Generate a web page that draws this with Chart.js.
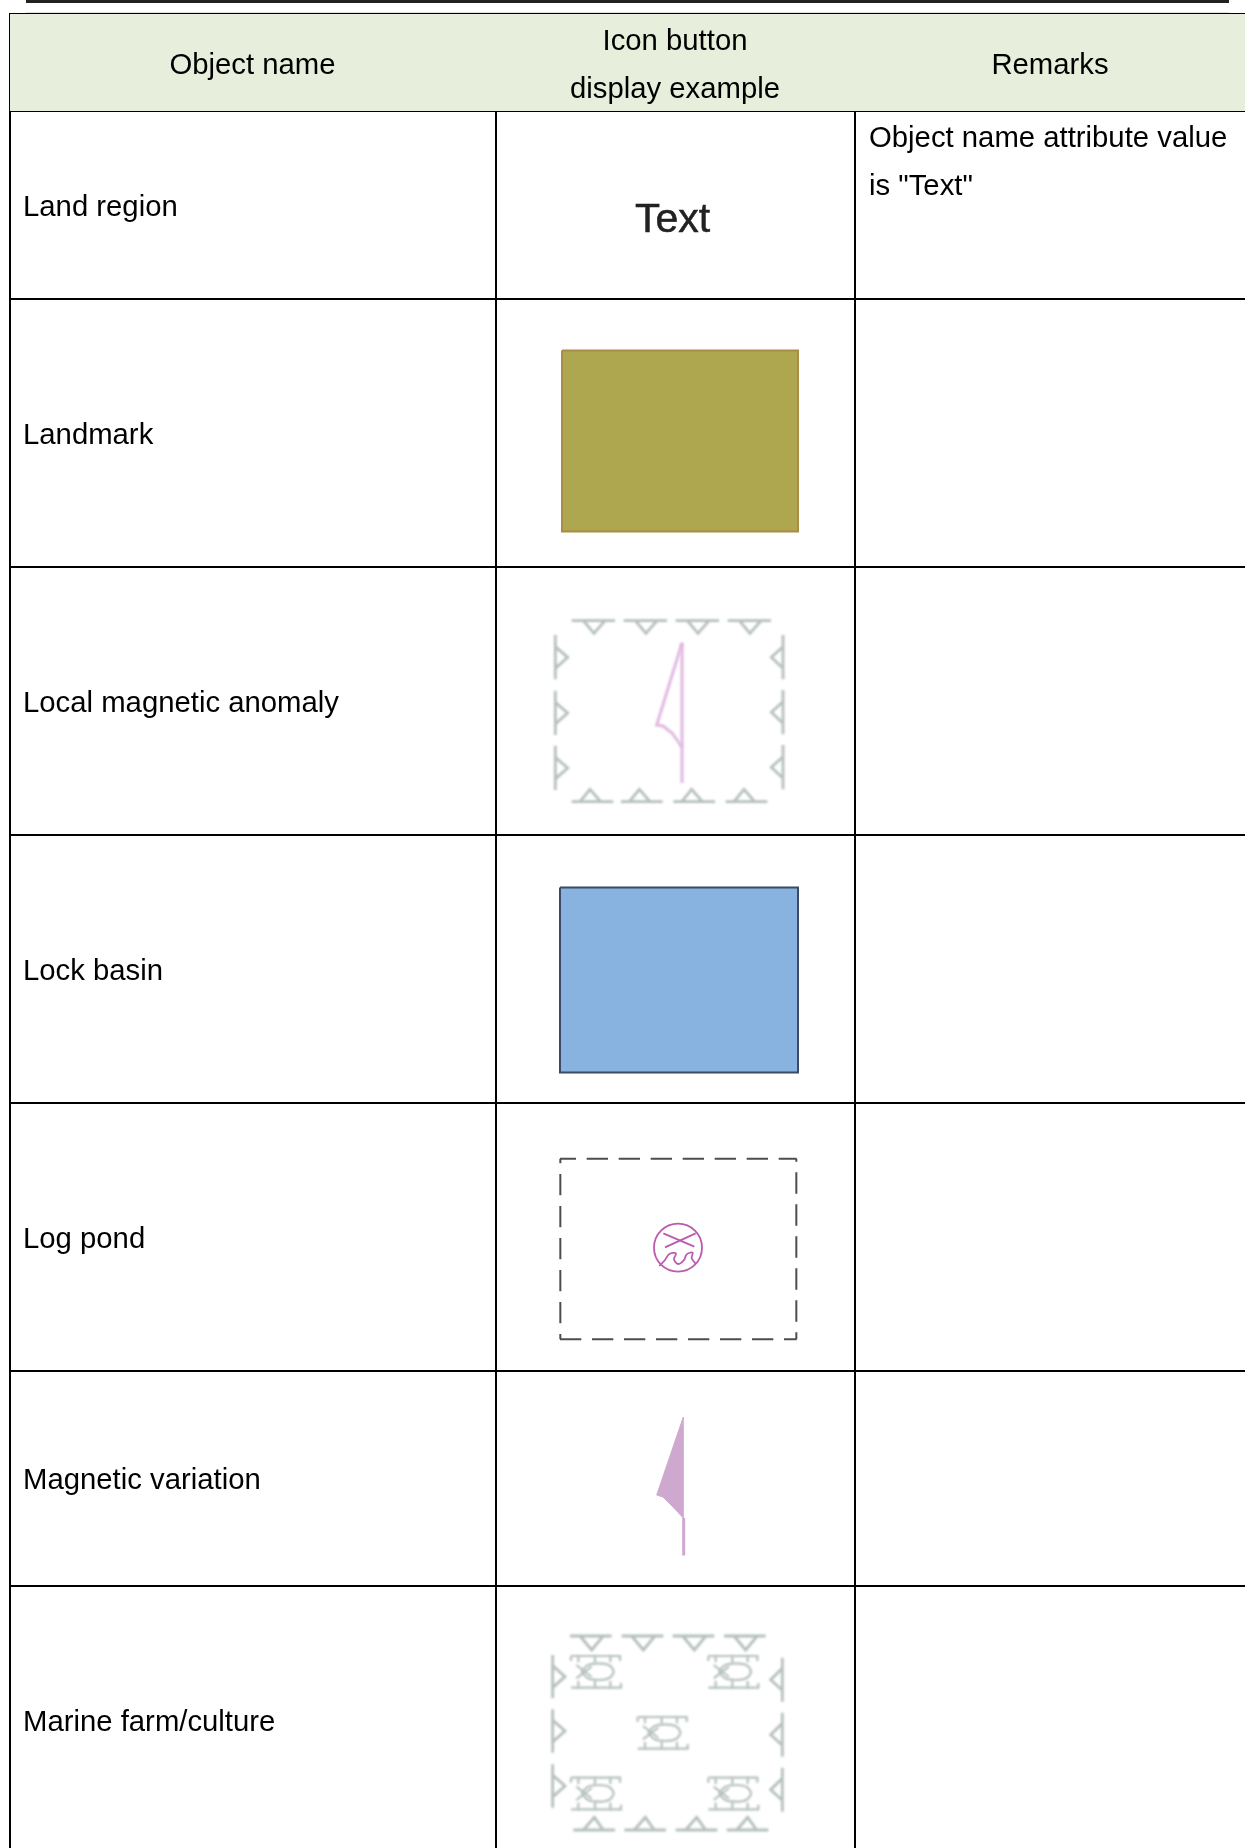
<!DOCTYPE html>
<html><head><meta charset="utf-8">
<style>html,body{margin:0;padding:0;background:#fff}canvas{display:block}</style>
<script src="https://cdn.jsdelivr.net/npm/chart.js@4"></script>
</head><body><canvas id="c" width="1245" height="1848"></canvas>
<script>
// ---- table content ----
const headerLabels = ["Object name", "Icon button", "display example", "Remarks"];
const objectNames = ["Land region", "Landmark", "Local magnetic anomaly", "Lock basin", "Log pond", "Magnetic variation", "Marine farm/culture"];
const objectNameRows = [208, 436, 704, 972, 1240, 1481, 1723];
const remarksLines = ['Object name attribute value', 'is "Text"'];
const columnEdges = [10, 496, 855];
const rowEdges = [14, 111, 299, 567, 835, 1103, 1371, 1586];

// ---- icon outlines, in table units ----
const landmarkBox = [[562, 350.5], [798, 350.5], [798, 531.5], [562, 531.5], [562, 350.5]];
const lockBasinBox = [[560, 887.5], [798, 887.5], [798, 1072.5], [560, 1072.5], [560, 887.5]];
const logTop = [[90, 56], [800, 56]];
const logBottom = [[90, 598], [800, 598]];
const logLeft = [[91, 56], [91, 598]];
const logRight = [[799, 56], [799, 598]];
const logPondCentre = [[678, 1247.7]];
const logCrossA = [[400, 280], [493, 320]];
const logCrossB = [[497, 280], [405, 322]];
const logWave = [[388, 378], [405, 360], [418, 342], [438, 340], [432, 358], [445, 372], [462, 360], [470, 343], [488, 338], [485, 355], [498, 372]];
const anomalyMast = [[682, 643], [682, 783]];
const anomalyFlag = [[682, 643], [656.7, 725], [663, 726], [672, 733], [682, 747]];
const variationFlag = [[683.3, 1417], [656.7, 1495], [663, 1497], [673, 1507], [683.3, 1518], [683.3, 1417]];
const variationMast = [[683.7, 1518], [683.7, 1555.5]];

// marker rows: start offsets along each edge of the dashed hatch
const anomalyTop = [125, 281, 437, 593];
const anomalyBottom = [125, 273, 430, 587];
const anomalyLeft = [105, 272, 437];
const anomalyRight = [105, 270, 435];
const marineTop = [120, 275, 428, 582];
const marineBottom = [130, 283, 437, 590];
const marineLeft = [105, 268, 433];
const marineRight = [113, 278, 443];
const fishSpots = [[123, 105], [535, 105], [323, 288], [123, 470], [535, 470]];
const fishFrame = [
  [[0, 3], [147, 3], [147, 18]],
  [[0, 3], [0, 18]],
  [[22, 3], [22, 22]], [[72, 3], [72, 24]], [[118, 3], [118, 22]],
  [[0, 98], [150, 98], [150, 84]],
  [[22, 98], [22, 78]], [[72, 98], [72, 76]], [[118, 98], [118, 78]],
  [[16, 30], [62, 66]], [[16, 70], [62, 34]]
];
const fishBody = [[32, 50], [50, 31], [82, 25], [115, 31], [128, 50], [115, 69], [82, 75], [50, 69], [32, 50]];

// ---- helpers building datasets ----
const datasets = [];
function pts(list) { return list.map(p => ({x: p[0], y: p[1]})); }
function stroke(list, color, width, extra) {
  datasets.push(Object.assign({data: pts(list), showLine: true, pointRadius: 0, borderColor: color,
    borderWidth: width, fill: false, tension: 0}, extra || {}));
}
function area(list, fillColor, lineColor, width, extra) {
  datasets.push(Object.assign({data: pts(list), showLine: true, pointRadius: 0, borderColor: lineColor,
    borderWidth: width, backgroundColor: fillColor, fill: 'shape', tension: 0}, extra || {}));
}
function zoomed(ox, oy, x, y) { return [ox + x / 3, oy + y / 3]; }
function inIcon(list, ox, oy) { return list.map(p => zoomed(ox, oy, p[0], p[1])); }
function hMarks(ox, oy, starts, y, len, b1, b2, a, ay, color, w) {
  starts.forEach(s => stroke(inIcon([[s, y], [s + b1, y], [s + a, ay], [s + b2, y], [s + b1, y], [s + b2, y], [s + len, y]], ox, oy), color, w, {soft: true}));
}
function vMarks(ox, oy, starts, x, len, b1, b2, a, ax, color, w) {
  starts.forEach(s => stroke(inIcon([[x, s], [x, s + b1], [ax, s + a], [x, s + b2], [x, s + b1], [x, s + b2], [x, s + len]], ox, oy), color, w, {soft: true}));
}

// header band
area([[columnEdges[0], rowEdges[0]], [1245, rowEdges[0]], [1245, rowEdges[1]], [columnEdges[0], rowEdges[1]], [columnEdges[0], rowEdges[0]]], '#E7EEDC', '#E7EEDC', 0);
// page rule on top
stroke([[26, 1.5], [1229, 1.5]], '#222222', 3);
stroke([[26, 12.5], [1229, 12.5]], '#DDDDDD', 1);
// table lines
rowEdges.forEach(y => stroke([[columnEdges[0] - 1, y], [1245, y]], '#000000', 2));
columnEdges.forEach(x => stroke([[x, rowEdges[0]], [x, 1848]], '#000000', 2));

// icons
area(landmarkBox, '#AFA750', '#AA8C45', 2);
area(lockBasinBox, '#88B2DF', '#3B4A66', 2);
const dash = {borderDash: [21.3, 10.7]};
const dashGray = '#4D4D4D';
stroke(inIcon(logTop, 530, 1140), dashGray, 2, Object.assign({borderDashOffset: 5.3}, dash));
stroke(inIcon(logBottom, 530, 1140), dashGray, 2, Object.assign({borderDashOffset: 0}, dash));
stroke(inIcon(logLeft, 530, 1140), dashGray, 2, Object.assign({borderDashOffset: 16.7}, dash));
stroke(inIcon(logRight, 530, 1140), dashGray, 2, Object.assign({borderDashOffset: 18.3}, dash));
datasets.push({data: pts(logPondCentre), showLine: false, pointRadius: 24, pointStyle: 'circle',
  pointBorderColor: '#BC5AAE', pointBackgroundColor: 'rgba(0,0,0,0)', pointBorderWidth: 1.8});
stroke(inIcon(logCrossA, 530, 1140), '#BC5AAE', 1.8);
stroke(inIcon(logCrossB, 530, 1140), '#BC5AAE', 1.8);
stroke(inIcon(logWave, 530, 1140), '#BC5AAE', 1.8, {tension: 0.35});

const gray = '#B4BFBB', w = 2.8;
hMarks(530, 600, anomalyTop, 62, 130, 35, 100, 67, 100, gray, w);
hMarks(530, 600, anomalyBottom, 605, 125, 25, 87, 55, 568, gray, w);
vMarks(530, 600, anomalyLeft, 76, 133, 35, 100, 67, 113, gray, w);
vMarks(530, 600, anomalyRight, 759, 133, 35, 100, 67, 724, gray, w);
stroke(anomalyMast, '#E0B8E0', 3, {soft: true});
stroke(anomalyFlag, '#E0B8E0', 3, {soft: true});

area(variationFlag, '#CFA8CF', '#CFA8CF', 1);
stroke(variationMast, '#CFA8CF', 3);

hMarks(530, 1620, marineTop, 48, 125, 30, 100, 65, 90, gray, w);
hMarks(530, 1620, marineBottom, 630, 125, 30, 90, 63, 592, gray, w);
vMarks(530, 1620, marineLeft, 68, 130, 32, 98, 65, 105, gray, w);
vMarks(530, 1620, marineRight, 757, 132, 32, 98, 66, 722, gray, w);
fishSpots.forEach(s => {
  const at = list => inIcon(list, 530 + s[0] / 3, 1620 + s[1] / 3);
  fishFrame.forEach(seg => stroke(at(seg), gray, 2.2, {soft: true}));
  stroke(at(fishBody), gray, 2.2, {soft: true, tension: 0.3});
});

// ---- text, drawn by a chart plugin through the library's scales ----
const font = '29.3px "Liberation Sans"';
const texts = [
  [headerLabels[0], 252.5, 65.5, 'center', font, '#000', 0],
  [headerLabels[1], 675, 41.5, 'center', font, '#000', 0],
  [headerLabels[2], 675, 89.5, 'center', font, '#000', 0],
  [headerLabels[3], 1050, 65.5, 'center', font, '#000', 0],
  [remarksLines[0], 869, 138.5, 'left', font, '#000', 0],
  [remarksLines[1], 869, 186.5, 'left', font, '#000', 0],
  ['Text', 672.5, 221, 'center', '41px "Liberation Sans"', '#222', 0.5]
];
objectNames.forEach((n, i) => texts.push([n, 23, objectNameRows[i], 'left', font, '#000', 0]));

const softener = {
  id: 'softener',
  beforeDatasetDraw(chart, args) { if (chart.data.datasets[args.index].soft) { chart.ctx.save(); chart.ctx.filter = 'blur(0.8px)'; } },
  afterDatasetDraw(chart, args) { if (chart.data.datasets[args.index].soft) { chart.ctx.restore(); } }
};
const tableText = {
  id: 'tableText',
  afterDatasetsDraw(chart) {
    const {ctx, scales: {x, y}} = chart;
    ctx.save();
    ctx.textBaseline = 'middle';
    texts.forEach(t => {
      ctx.font = t[4]; ctx.fillStyle = t[5]; ctx.textAlign = t[3];
      const px = x.getPixelForValue(t[1]), py = y.getPixelForValue(t[2]);
      ctx.fillText(t[0], px, py);
      if (t[6]) { ctx.strokeStyle = t[5]; ctx.lineWidth = t[6]; ctx.strokeText(t[0], px, py); }
    });
    ctx.restore();
  }
};

new Chart(document.getElementById('c'), {
  type: 'scatter',
  data: {datasets},
  plugins: [softener, tableText],
  options: {
    responsive: false, animation: false, events: [],
    layout: {padding: 0, autoPadding: false},
    plugins: {legend: {display: false}, tooltip: {enabled: false}, title: {display: false}},
    scales: {
      x: {type: 'linear', min: 0, max: 1245, display: false},
      y: {type: 'linear', min: 0, max: 1848, reverse: true, display: false}
    }
  }
});
</script></body></html>
